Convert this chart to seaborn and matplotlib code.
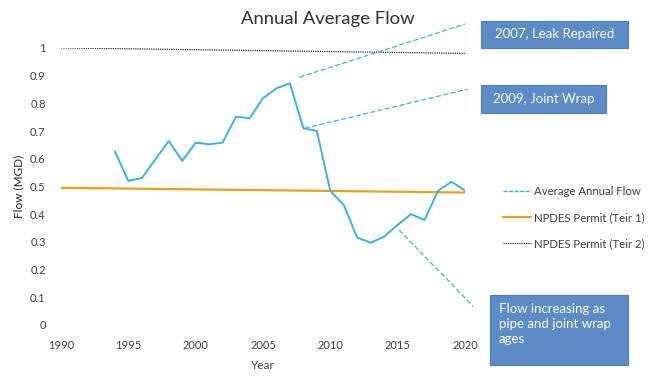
import matplotlib
matplotlib.use("Agg")
import matplotlib.pyplot as plt
from matplotlib.lines import Line2D
from matplotlib.patches import Rectangle
import seaborn as sns
import pandas as pd

# Annual average flow (MGD)
flow_years = [1994, 1995, 1996, 1998, 1999, 2000, 2001, 2002, 2003, 2004, 2005,
              2006, 2007, 2008, 2009, 2010, 2011, 2012, 2013, 2014, 2015, 2016,
              2017, 2018, 2019, 2020]
flow_values = [0.626, 0.52, 0.53, 0.664, 0.592, 0.658, 0.652, 0.658, 0.752, 0.746,
               0.818, 0.854, 0.872, 0.71, 0.70, 0.484, 0.433, 0.315, 0.297, 0.319,
               0.361, 0.40, 0.379, 0.484, 0.517, 0.485]

# Permit limits
permit_years = [1990, 2020]
tier1_values = [0.495, 0.478]
tier2_values = [1.0, 0.98]

# Callout leader lines: (x0, y0, x1, y1)
leader_leak = [2007.7, 0.894, 2020.0, 1.086]
leader_wrap = [2008.1, 0.71, 2020.2, 0.851]
leader_aging = [2015.1, 0.343, 2020.6, 0.068]

x_ticks = [1990, 1995, 2000, 2005, 2010, 2015, 2020]
y_ticks = [0, 0.1, 0.2, 0.3, 0.4, 0.5, 0.6, 0.7, 0.8, 0.9, 1]
y_tick_labels = ["0", "0.1", "0.2", "0.3", "0.4", "0.5", "0.6", "0.7", "0.8", "0.9", "1"]

sns.set_theme(style="white")
plt.rcParams["font.family"] = ["Lato", "DejaVu Sans"]

FLOW_C = "#38b4dc"
TIER1_C = "#e8a21a"
TIER2_C = "#2a2a2a"
BOX_C = "#5b8cc8"
TXT_C = "#404040"

fig = plt.figure(figsize=(6.52, 3.77), dpi=100)
ax = fig.add_axes([0.0936, 0.138, 0.6195, 0.735])

flow_df = pd.DataFrame({"Year": flow_years, "Flow": flow_values})
permit_df = pd.DataFrame({"Year": permit_years, "Tier1": tier1_values, "Tier2": tier2_values})

sns.lineplot(data=permit_df, x="Year", y="Tier2", ax=ax, color=TIER2_C,
             linewidth=0.9, linestyle=(0, (1, 0.8)))
sns.lineplot(data=permit_df, x="Year", y="Tier1", ax=ax, color=TIER1_C, linewidth=1.6)
sns.lineplot(data=flow_df, x="Year", y="Flow", ax=ax, color=FLOW_C, linewidth=1.4)

for seg in (leader_leak, leader_wrap, leader_aging):
    ax.plot([seg[0], seg[2]], [seg[1], seg[3]], color=FLOW_C, linewidth=0.9,
            linestyle=(0, (4, 2)), clip_on=False)

ax.set_xlim(1990, 2020)
ax.set_ylim(0, 1)
ax.set_xticks(x_ticks)
ax.set_yticks(y_ticks)
ax.set_yticklabels(y_tick_labels)
ax.tick_params(axis="both", length=0, labelsize=8, colors=TXT_C)
ax.tick_params(axis="y", pad=11)
ax.tick_params(axis="x", pad=11)
for s in ax.spines.values():
    s.set_visible(False)
ax.set_xlabel("Year", fontsize=8.5, color=TXT_C, labelpad=6)
ax.set_ylabel("Flow (MGD)", fontsize=8.5, color="#222222", labelpad=4)
fig.text(0.503, 0.950, "Annual Average Flow", ha="center", va="center",
         fontsize=13.3, color="#303030")

handles = [
    Line2D([], [], color=FLOW_C, linewidth=1.0, linestyle=(0, (3, 1))),
    Line2D([], [], color=TIER1_C, linewidth=1.6),
    Line2D([], [], color=TIER2_C, linewidth=0.9, linestyle=(0, (1, 0.8))),
]
labels = ["Average Annual Flow", "NPDES Permit (Teir 1)", "NPDES Permit (Teir 2)"]
fig.legend(handles, labels, loc="upper left", bbox_to_anchor=(0.765, 0.52),
           frameon=False, fontsize=8.2, handlelength=2.4, handletextpad=0.3,
           labelspacing=1.35, labelcolor=TXT_C, borderaxespad=0)

# Callout boxes in figure pixel space
W, H = 652, 377
boxes = [
    (481, 21, 147, 27, "2007, Leak Repaired"),
    (481, 85, 125, 28, "2009, Joint Wrap"),
    (490, 295, 138, 70, "Flow increasing as\npipe and joint wrap\nages"),
]
for x, y, w, h, txt in boxes:
    fig.patches.append(Rectangle((x / W, 1 - (y + h) / H), w / W, h / H,
                                 transform=fig.transFigure, facecolor=BOX_C,
                                 edgecolor="#4a7fbf", linewidth=0.8))
    if "\n" in txt:
        fig.text((x + 9) / W, 1 - (y + 8) / H, txt, ha="left", va="top",
                 fontsize=9.5, color="white", linespacing=1.3)
    else:
        fig.text((x + w / 2) / W, 1 - (y + h / 2) / H, txt, ha="center",
                 va="center", fontsize=9.5, color="white")

fig.savefig("out.png", dpi=100)
